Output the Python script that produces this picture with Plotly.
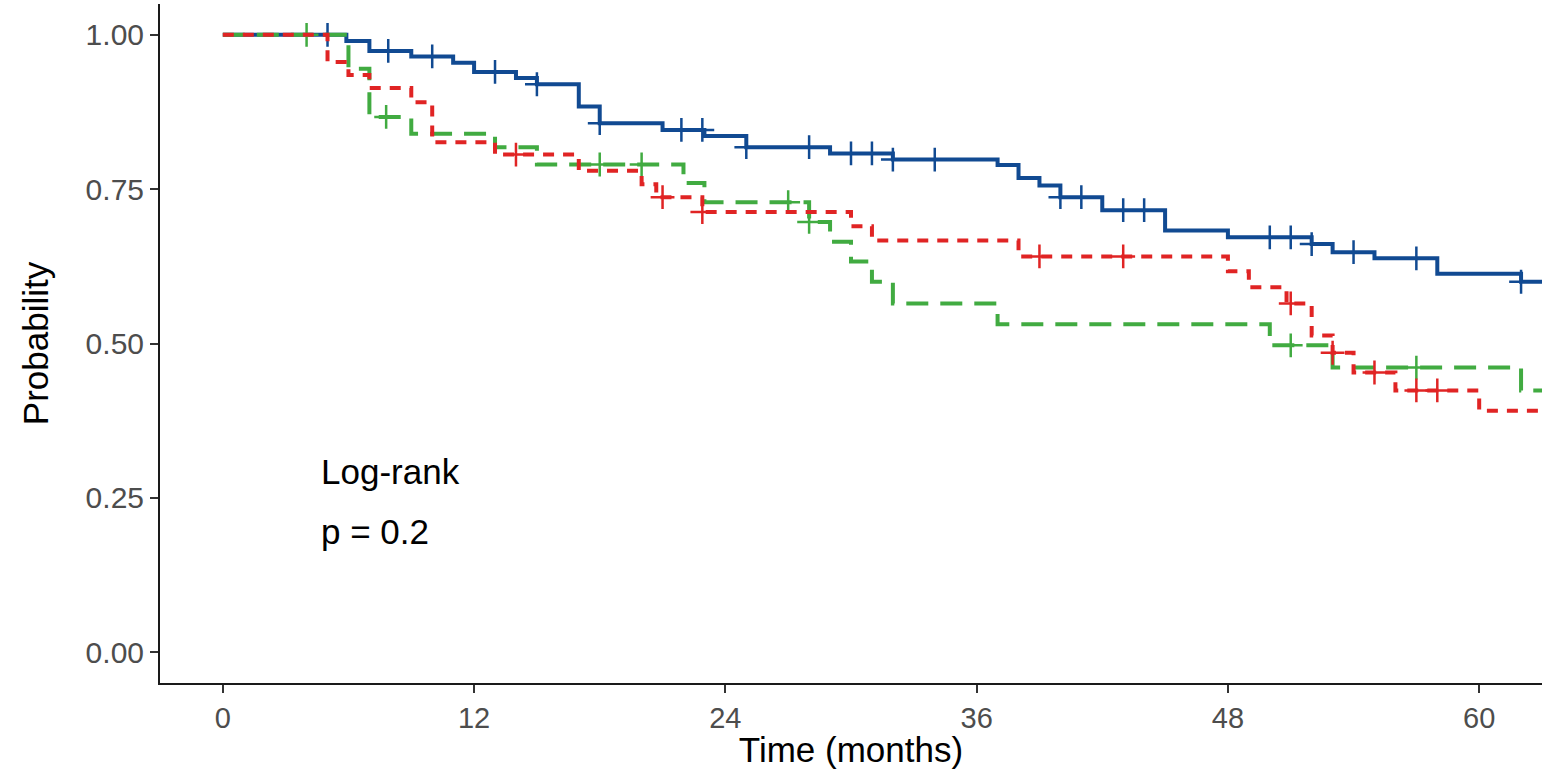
import plotly.graph_objects as go
import numpy as np

# ---- Data (Kaplan-Meier step curves) ----
blue_t = [0, 5.9, 7, 9, 11, 12, 14, 15, 17, 18, 21, 23, 25, 29, 32, 37, 38, 39, 40, 42, 45, 48, 52, 53, 55, 58, 62, 63]
blue_s = [1.0, 0.99, 0.974, 0.965, 0.955, 0.94, 0.93, 0.92, 0.884, 0.857, 0.846, 0.836, 0.818, 0.808, 0.798, 0.789, 0.768, 0.756, 0.737, 0.716, 0.683, 0.672, 0.661, 0.648, 0.638, 0.613, 0.60, 0.60]
blue_cens = [5, 7.9, 10, 13, 15, 18, 21.9, 22.9, 25, 28, 30, 31, 32, 34, 40, 41, 43, 44, 50, 51, 52, 54, 57, 62]

red_t = [0, 5, 6, 7, 9, 10, 13, 17, 20, 20.7, 22.9, 30, 31, 38, 48, 49, 50.8, 52, 53, 54, 56, 60, 63]
red_s = [1.0, 0.956, 0.935, 0.914, 0.891, 0.826, 0.806, 0.78, 0.758, 0.737, 0.713, 0.69, 0.667, 0.641, 0.617, 0.591, 0.565, 0.513, 0.485, 0.453, 0.424, 0.391, 0.391]
red_cens = [14, 21, 22.9, 39, 43, 51, 53, 55, 57, 58]

green_t = [0, 6, 7, 9, 13, 15, 22, 23, 28, 29, 30, 31, 32, 37, 50, 53, 62, 63]
green_s = [1.0, 0.945, 0.867, 0.84, 0.818, 0.79, 0.76, 0.729, 0.697, 0.665, 0.633, 0.60, 0.565, 0.531, 0.497, 0.461, 0.424, 0.424]
green_cens = [4, 7.8, 18, 20, 27, 28, 51, 57]

x_ticks = [0, 12, 24, 36, 48, 60]
y_ticks = [0, 0.25, 0.5, 0.75, 1.0]
y_ticktext = ["0.00", "0.25", "0.50", "0.75", "1.00"]

BLUE = "#114a92"
RED = "#e02424"
GREEN = "#41ab41"


def step_value(ts, ss, t):
    idx = np.searchsorted(np.array(ts), t, side="right") - 1
    return ss[idx]


fig = go.Figure()

curves = [
    (blue_t, blue_s, blue_cens, BLUE, "solid"),
    (green_t, green_s, green_cens, GREEN, "22px,12px"),
    (red_t, red_s, red_cens, RED, "11px,9px"),
]

for ts, ss, cens, col, dash in curves:
    fig.add_trace(go.Scatter(
        x=ts, y=ss, mode="lines", line=dict(shape="hv", color=col, width=4, dash=dash),
        showlegend=False, hoverinfo="skip"))
    fig.add_trace(go.Scatter(
        x=cens, y=[step_value(ts, ss, c) for c in cens], mode="markers",
        marker=dict(symbol="cross-thin", size=17, line=dict(color=col, width=2.5), color=col),
        showlegend=False, hoverinfo="skip"))

fig.add_annotation(x=4.6, y=0.292, text="Log-rank", showarrow=False, xanchor="left", yanchor="middle",
                   font=dict(family="Liberation Sans, Arial", size=35, color="black"))
fig.add_annotation(x=4.6, y=0.196, text="p = 0.2", showarrow=False, xanchor="left", yanchor="middle",
                   font=dict(family="Liberation Sans, Arial", size=35, color="black"))

fig.update_layout(
    width=1542, height=769,
    margin=dict(l=160, r=0, t=4, b=86),
    paper_bgcolor="white", plot_bgcolor="white",
    font=dict(family="Liberation Sans, Arial"),
    xaxis=dict(range=[-3, 63], tickvals=x_ticks, ticks="outside", ticklen=8, tickwidth=1.5, tickcolor="#333333",
               showline=True, linecolor="#1a1a1a", linewidth=2, showgrid=False, zeroline=False,
               tickfont=dict(size=29, color="#4d4d4d"),
               title=dict(text="Time (months)", font=dict(size=35, color="black"), standoff=3)),
    yaxis=dict(range=[-0.05, 1.05], tickvals=y_ticks, ticktext=y_ticktext, ticks="outside", ticklen=8,
               tickwidth=1.5, tickcolor="#333333",
               showline=True, linecolor="#1a1a1a", linewidth=2, showgrid=False, zeroline=False,
               tickfont=dict(size=30, color="#4d4d4d"),
               title=dict(text="Probability", font=dict(size=35, color="black"), standoff=26)),
)

fig.write_html("out.html", config={"displayModeBar": False},
               post_script="document.body.style.margin='0';document.body.style.overflow='hidden';")
